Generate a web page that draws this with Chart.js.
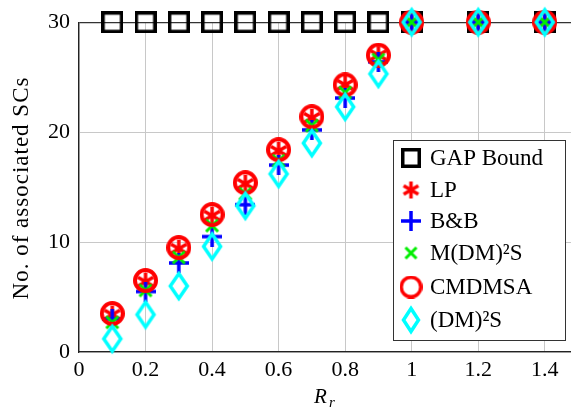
<!DOCTYPE html>
<html>
<head>
<meta charset="utf-8">
<script src="https://cdn.jsdelivr.net/npm/chart.js@4.4.1/dist/chart.umd.min.js"></script>
<style>
  html, body { margin: 0; padding: 0; background: #fff; overflow: hidden; }
  #wrap { width: 590px; height: 413px; }
</style>
</head>
<body>
<div id="wrap"><canvas id="chart" width="590" height="413"></canvas></div>
<script>
// x values (R_r)
const rr = [0.1, 0.2, 0.3, 0.4, 0.5, 0.6, 0.7, 0.8, 0.9, 1, 1.2, 1.4];

const gapBound = [30, 30, 30, 30, 30, 30, 30, 30, 30, 30, 30, 30];
const lpVals   = [3.4, 6.4, 9.4, 12.4, 15.3, 18.3, 21.3, 24.3, 27.0, 30, 30, 30];
const bbVals   = [3.0, 5.5, 8.1, 10.5, 13.4, 17.0, 20.2, 23.1, 26.4, 30, 30, 30];
const mdmsVals = [2.7, 5.6, 8.6, 11.5, 14.4, 17.4, 20.6, 23.6, 26.6, 30, 30, 30];
const cmdVals  = [3.5, 6.5, 9.5, 12.5, 15.4, 18.4, 21.4, 24.3, 27.0, 30, 30, 30];
const dmsVals  = [1.2, 3.4, 6.0, 9.6, 13.3, 16.2, 19.0, 22.3, 25.3, 30, 30, 30];

const xTicks = [0, 0.2, 0.4, 0.6, 0.8, 1, 1.2, 1.4];
const yTicks = [0, 10, 20, 30];

const serif = "'Liberation Serif', 'DejaVu Serif', serif";

function mk(w, h, draw) {
  const c = document.createElement('canvas');
  c.width = w; c.height = h;
  const g = c.getContext('2d');
  draw(g, w, h);
  return c;
}

function square(s, lw) {
  return mk(s, s, (g, w, h) => {
    g.strokeStyle = '#000'; g.lineWidth = lw;
    g.strokeRect(lw / 2, lw / 2, w - lw, h - lw);
  });
}
function asterisk(s, lw) {
  return mk(s, s, (g, w, h) => {
    g.strokeStyle = '#ff0000'; g.lineWidth = lw; g.lineCap = 'butt';
    const r = s / 2 - 1;
    for (let k = 0; k < 3; k++) {
      const a = Math.PI / 2 + k * Math.PI / 3;
      g.beginPath();
      g.moveTo(w / 2 + r * Math.cos(a), h / 2 + r * Math.sin(a));
      g.lineTo(w / 2 - r * Math.cos(a), h / 2 - r * Math.sin(a));
      g.stroke();
    }
  });
}
function plus(s, lw) {
  return mk(s, s, (g, w, h) => {
    g.strokeStyle = '#0000ff'; g.lineWidth = lw;
    g.beginPath();
    g.moveTo(0, h / 2); g.lineTo(w, h / 2);
    g.moveTo(w / 2, 0); g.lineTo(w / 2, h);
    g.stroke();
  });
}
function cross(s, lw) {
  return mk(s, s, (g, w, h) => {
    g.strokeStyle = '#00ee00'; g.lineWidth = lw;
    g.beginPath();
    g.moveTo(2, 2); g.lineTo(w - 2, h - 2);
    g.moveTo(w - 2, 2); g.lineTo(2, h - 2);
    g.stroke();
  });
}
function ring(s, lw) {
  return mk(s, s, (g, w, h) => {
    g.strokeStyle = '#ff0000'; g.lineWidth = lw;
    g.beginPath();
    g.arc(w / 2, h / 2, s / 2 - lw / 2, 0, Math.PI * 2);
    g.stroke();
  });
}
function diamond(w0, h0, lw) {
  return mk(w0, h0, (g, w, h) => {
    g.strokeStyle = '#00ffff'; g.lineWidth = lw; g.lineJoin = 'miter';
    g.beginPath();
    g.moveTo(w / 2, lw); g.lineTo(w - lw, h / 2);
    g.lineTo(w / 2, h - lw); g.lineTo(lw, h / 2);
    g.closePath(); g.stroke();
  });
}

const names = ['GAP Bound', 'LP', 'B&B', 'M(DM)²S', 'CMDMSA', '(DM)²S'];
const vals = [gapBound, lpVals, bbVals, mdmsVals, cmdVals, dmsVals];
const marks = [square(22, 3.5), asterisk(20, 3.5), plus(20, 3.5), cross(16, 3), ring(25, 4), diamond(24, 32, 3.5)];
const legMarks = [square(20, 3.5), asterisk(19, 3.5), plus(20, 3.5), cross(15, 3), ring(23, 3.5), diamond(22, 30, 3.5)];

const datasets = names.map((n, i) => ({
  label: n,
  data: rr.map((x, j) => ({ x: x, y: vals[i][j] })),
  showLine: false,
  pointStyle: marks[i],
  pointRadius: 10,
  pointHoverRadius: 10,
  order: 5 - i,
  clip: false
}));

const extras = {
  id: 'extras',
  afterDraw(chart) {
    const g = chart.ctx;
    g.save();
    // y title
    g.fillStyle = '#000';
    g.font = '23px ' + serif;
    g.letterSpacing = '1px';
    g.textAlign = 'center'; g.textBaseline = 'middle';
    g.translate(22, 188); g.rotate(-Math.PI / 2);
    g.fillText('No. of associated SCs', 0, 0);
    g.restore();

    // x title R_r
    g.save();
    g.fillStyle = '#000';
    g.font = 'italic 21px ' + serif;
    g.textBaseline = 'alphabetic';
    g.fillText('R', 314, 403);
    g.font = 'italic 15px ' + serif;
    g.fillText('r', 329, 407);
    g.restore();

    // legend
    const lx = 393, ly = 140, lw = 172, lh = 200;
    g.save();
    g.fillStyle = '#fff';
    g.fillRect(lx, ly, lw, lh);
    g.strokeStyle = '#333'; g.lineWidth = 1;
    g.strokeRect(lx + 0.5, ly + 0.5, lw, lh);
    g.fillStyle = '#000';
    g.font = '23px ' + serif;
    g.textBaseline = 'middle'; g.textAlign = 'left';
    const rowY = [158, 190, 221, 253, 287, 320];
    names.forEach((n, i) => {
      const m = legMarks[i];
      g.drawImage(m, 411 - m.width / 2, rowY[i] - m.height / 2);
      g.fillText(n, 430, rowY[i] + 1);
    });
    g.restore();
  }
};

new Chart(document.getElementById('chart'), {
  type: 'scatter',
  data: { datasets: datasets },
  options: {
    responsive: false,
    animation: false,
    layout: { padding: { left: 0, right: 12, top: 16, bottom: 0 } },
    plugins: { legend: { display: false }, tooltip: { enabled: false } },
    scales: {
      x: {
        type: 'linear', min: 0, max: 1.5,
        afterBuildTicks: (s) => { s.ticks = xTicks.map(v => ({ value: v })); },
        afterFit: (s) => { s.height = 61; },
        ticks: {
          color: '#000', padding: 5,
          font: { family: serif, size: 22 },
          callback: (v) => String(v)
        },
        grid: { color: '#c8c8c8', lineWidth: 1, drawTicks: false },
        border: { color: '#222', width: 1.3 }
      },
      y: {
        min: 0, max: 30,
        afterBuildTicks: (s) => { s.ticks = yTicks.map(v => ({ value: v })); },
        afterFit: (s) => { s.width = 79; },
        ticks: {
          color: '#000', padding: 9,
          font: { family: serif, size: 22 }
        },
        grid: {
          color: (c) => (c.tick && c.tick.value === 30 ? '#333' : '#c8c8c8'),
          lineWidth: (c) => (c.tick && c.tick.value === 30 ? 1.3 : 1),
          drawTicks: false
        },
        border: { color: '#222', width: 1.3 }
      }
    }
  },
  plugins: [extras]
});
</script>
</body>
</html>
